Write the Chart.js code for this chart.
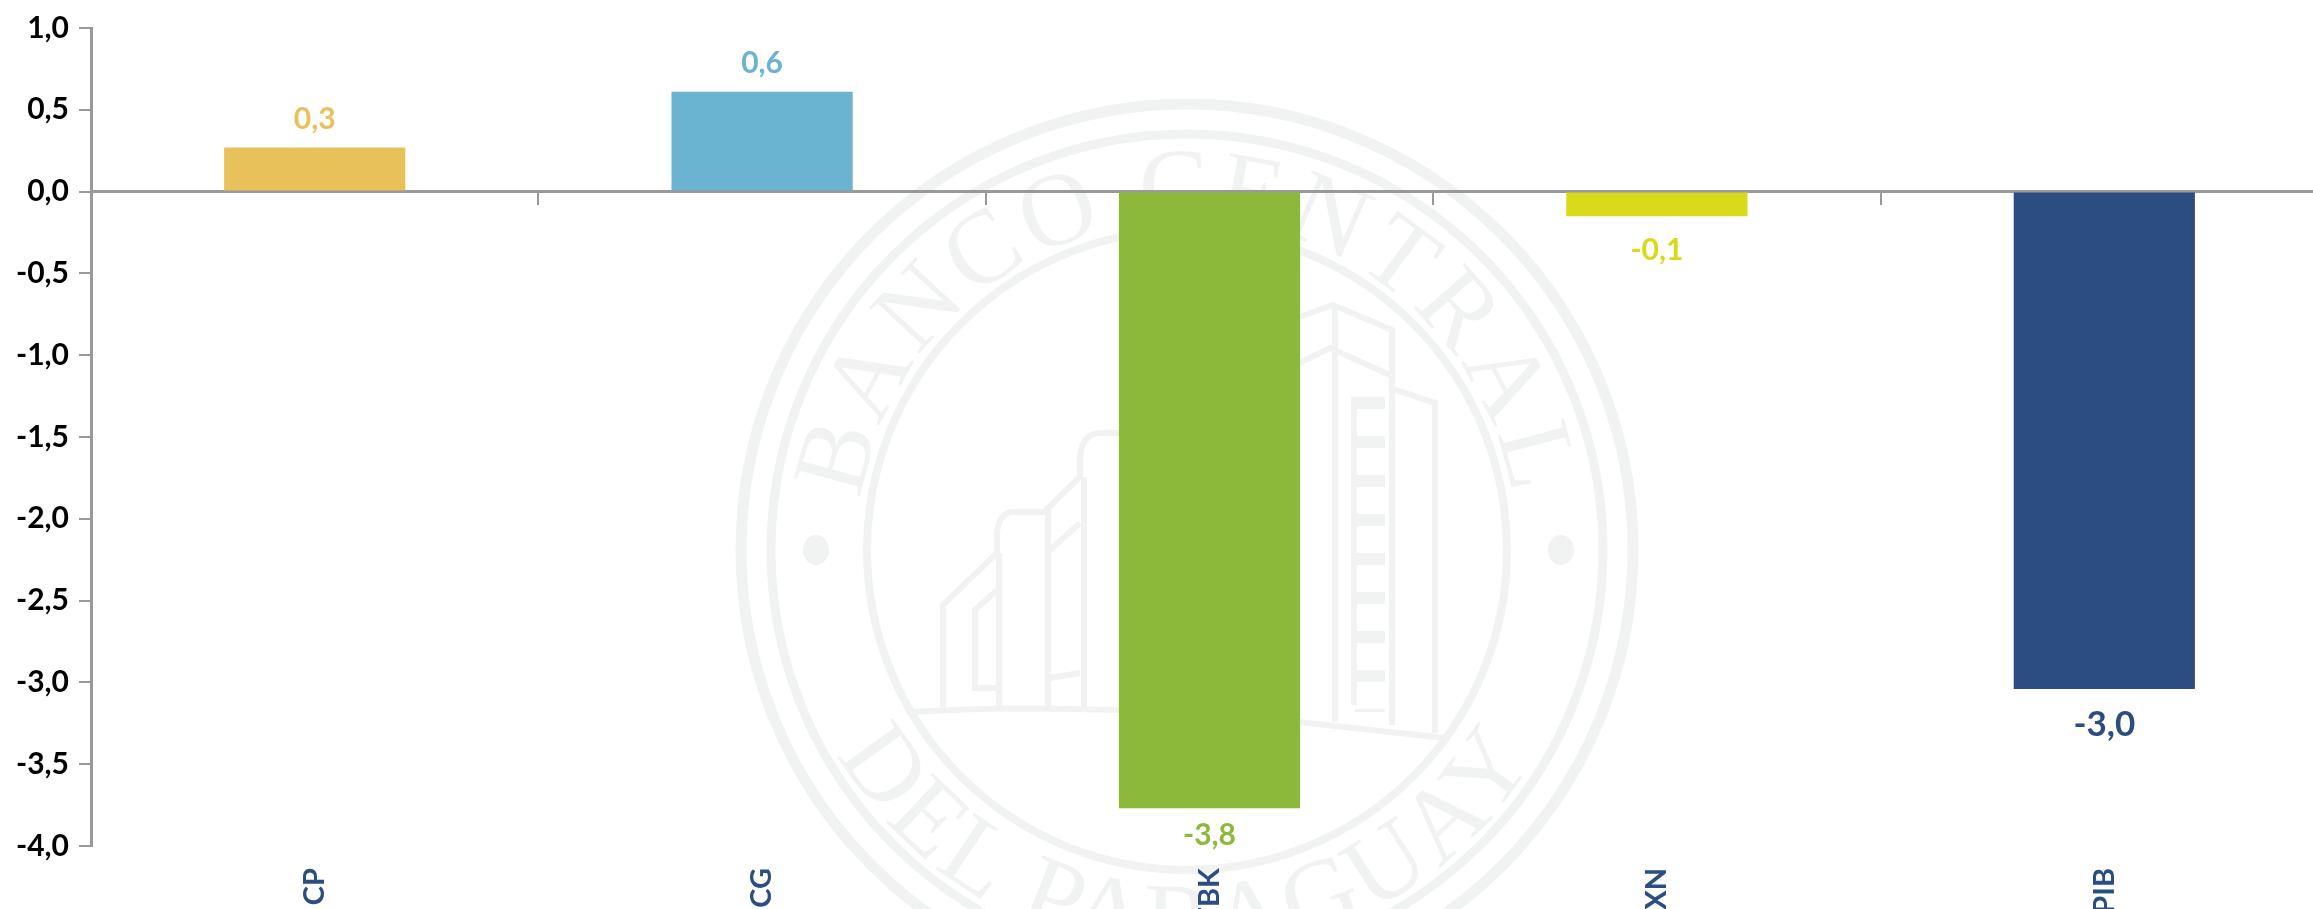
<!DOCTYPE html>
<html>
<head>
<meta charset="utf-8">
<title>PIB</title>
<script src="https://cdn.jsdelivr.net/npm/chart.js@4"></script>
<style>
  html, body { margin: 0; padding: 0; background: #fff; overflow: hidden; }
  #page { position: relative; width: 2313px; height: 909px; overflow: hidden; }
  #seal { position: absolute; left: 0; top: 0; }
  #wrap { position: absolute; left: 0; top: 0; width: 2340px; height: 1000px; }
</style>
</head>
<body>
<div id="page">
  <svg id="seal" width="2313" height="909" viewBox="0 0 2313 909">
    <g fill="none" stroke="#f0f3f2" stroke-width="11">
      <circle cx="1187" cy="550" r="446"/>
      <circle cx="1187" cy="550" r="416" stroke-width="9"/>
      <circle cx="1187" cy="550" r="320" stroke-width="8"/>
    </g>
    <g fill="#f0f3f2">
      <ellipse cx="816" cy="550" rx="13" ry="15"/>
      <ellipse cx="1561" cy="550" rx="13" ry="15"/>
    </g>
    <g fill="none" stroke="#f1f3f3" stroke-width="6">
      <path d="M943 707 V605 L997 553 V533 Q999 512 1014 512 H1044 L1080 477 V457 Q1082 433 1101 433 H1119"/>
      <path d="M999 553 V707 M1048 510 V707 M1084 477 V707"/>
      <path d="M997 590 L975 610 V688 H997 M1050 550 L1080 523 M1050 678 L1080 673"/>
      <path d="M910 712 Q1010 706 1119 710 L1299 722 L1445 738"/>
      <path d="M1299 317 L1333 305 L1392 330 V377 M1299 363 L1330 348 L1390 375 M1335 305 V722"/>
      <path d="M1392 375 V725 M1390 388 L1435 403 V733 M1354 397 V705"/>
      <path d="M1370 397 V712" stroke-width="30" stroke-dasharray="12 27"/>
    </g>
    <defs>
      <path id="arcTop" d="M 857 550 A 330 330 0 0 1 1517 550"/>
      <path id="arcBot" d="M 782 550 A 405 405 0 0 0 1592 550"/>
    </defs>
    <g font-family="'Liberation Serif', serif" font-size="104" fill="#f1f3f3" letter-spacing="5">
      <text text-anchor="middle"><textPath href="#arcTop" startOffset="50%">BANCO CENTRAL</textPath></text>
      <text text-anchor="middle"><textPath href="#arcBot" startOffset="50%">DEL PARAGUAY</textPath></text>
    </g>
  </svg>
  <div id="wrap"><canvas id="chart"></canvas></div>
</div>
<script>
const categories = ['CP', 'CG', 'FBK', 'XN', 'PIB'];
const values = [0.27, 0.61, -3.77, -0.15, -3.04];
const valueLabels = ['0,3', '0,6', '-3,8', '-0,1', '-3,0'];
const barColors = ['#e8c15a', '#6ab3d1', '#8db93a', '#d8da18', '#2b4d80'];
const labelSizes = [30, 30, 30, 30, 35];
const labelGaps = [-28, -28, 27, 34, 36];

const axisGrey = '#999999';
const labelFont = "Lato, 'Noto Sans', sans-serif";

// value labels drawn next to the bars, no datalabels plugin here
const barLabels = {
    id: 'barLabels',
    afterDatasetsDraw(chart) {
        const ctx = chart.ctx;
        const meta = chart.getDatasetMeta(0);
        ctx.save();
        ctx.textAlign = 'center';
        ctx.textBaseline = 'middle';
        meta.data.forEach((bar, i) => {
            ctx.fillStyle = barColors[i];
            ctx.font = `700 ${labelSizes[i]}px ${labelFont}`;
            ctx.fillText(valueLabels[i], bar.x, bar.y + labelGaps[i]);
        });
        ctx.restore();
    }
};

new Chart(document.getElementById('chart'), {
    type: 'bar',
    data: {
        labels: categories,
        datasets: [{
            data: values,
            backgroundColor: barColors,
            categoryPercentage: 0.405,
            barPercentage: 1
        }]
    },
    options: {
        responsive: true,
        maintainAspectRatio: false,
        animation: false,
        layout: { padding: { top: 25, right: 12, left: 0, bottom: 0 } },
        plugins: { legend: { display: false }, tooltip: { enabled: false } },
        scales: {
            x: {
                position: 'bottom',
                border: { display: false },
                grid: { display: false },
                ticks: {
                    minRotation: 90,
                    maxRotation: 90,
                    autoSkip: false,
                    padding: 14,
                    color: '#2b4d80',
                    font: { family: labelFont, size: 29, weight: '700' }
                },
                afterFit(scale) { scale.height = 154; }
            },
            // the axis line crosses at zero, labels stay at the bottom
            zero: {
                axis: 'x',
                type: 'category',
                position: { y: 0 },
                offset: true,
                border: { display: true, color: axisGrey, width: 3 },
                grid: { offset: true, drawOnChartArea: false, drawTicks: true, tickLength: 12, color: axisGrey, lineWidth: 2 },
                ticks: { display: false }
            },
            y: {
                min: -4,
                max: 1,
                border: { display: true, color: axisGrey, width: 3 },
                grid: { drawOnChartArea: false, drawTicks: true, tickLength: 12, color: axisGrey, lineWidth: 2 },
                ticks: {
                    stepSize: 0.5,
                    padding: 10,
                    color: '#000',
                    font: { family: labelFont, size: 30, weight: '700' },
                    callback: v => v.toFixed(1).replace('.', ',')
                },
                afterFit(scale) { scale.width = 91; }
            }
        }
    },
    plugins: [barLabels]
});
</script>
</body>
</html>
